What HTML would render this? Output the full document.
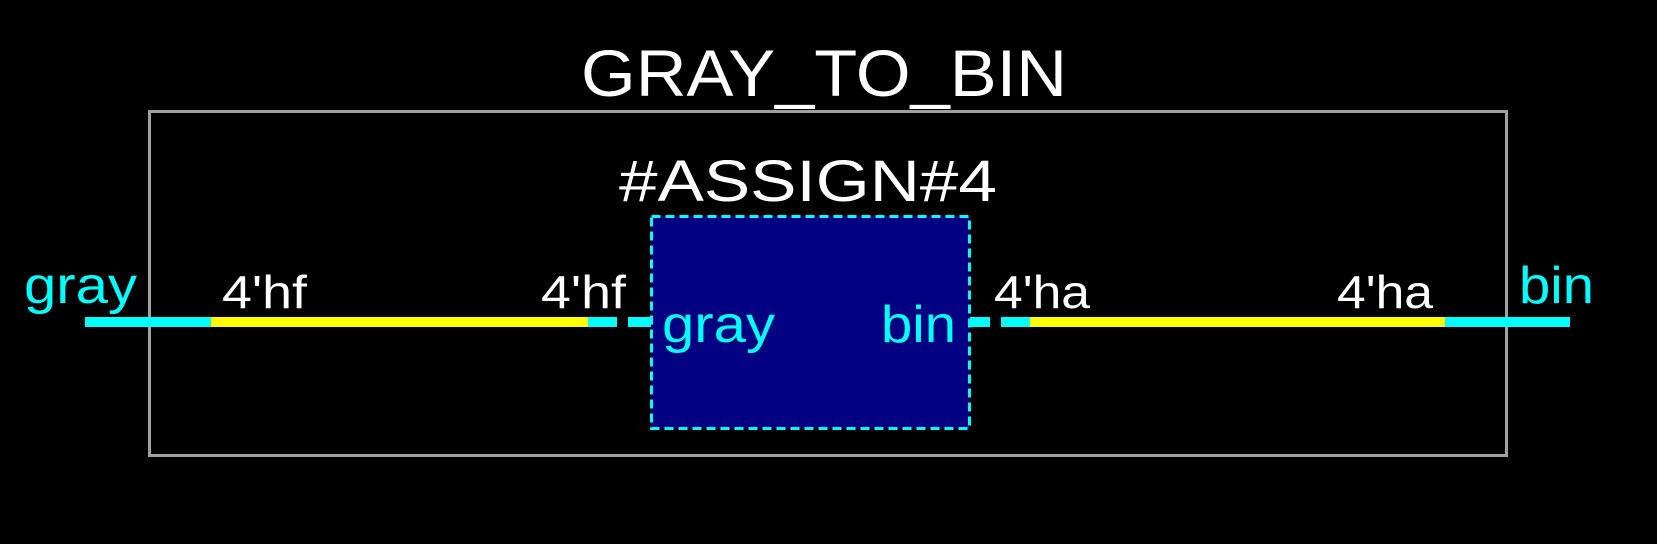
<!DOCTYPE html>
<html><head><style>html,body{margin:0;padding:0;background:#000;}svg{display:block}</style></head>
<body>
<svg width="1657" height="544" viewBox="0 0 1657 544" xmlns="http://www.w3.org/2000/svg" font-family="Liberation Sans, Arial, sans-serif">
<rect width="1657" height="544" fill="#000"/>
<text x="824" y="96" font-size="66" fill="#fff" text-anchor="middle" textLength="486" lengthAdjust="spacingAndGlyphs">GRAY_TO_BIN</text>
<rect x="149.5" y="111.5" width="1357" height="344" fill="none" stroke="#a0a0a0" stroke-width="3"/>
<text x="808" y="201" font-size="58" fill="#fff" text-anchor="middle" textLength="378" lengthAdjust="spacingAndGlyphs">#ASSIGN#4</text>
<rect x="651.5" y="216.5" width="318" height="212" fill="#000080" stroke="#00ffff" stroke-width="3" stroke-dasharray="9,5"/>
<g>
<rect x="85" y="317" width="126" height="10" fill="#00ffff"/>
<rect x="211" y="317" width="377" height="10" fill="#ffff00"/>
<rect x="588" y="317" width="29" height="10" fill="#00ffff"/>
<rect x="628" y="317" width="23" height="10" fill="#00ffff"/>
<rect x="970" y="317" width="20" height="10" fill="#00ffff"/>
<rect x="1001" y="317" width="29" height="10" fill="#00ffff"/>
<rect x="1030" y="317" width="415" height="10" fill="#ffff00"/>
<rect x="1445" y="317" width="125" height="10" fill="#00ffff"/>
</g>
<g font-size="52" fill="#00ffff">
<text x="24" y="303" textLength="113" lengthAdjust="spacingAndGlyphs">gray</text>
<text x="662" y="342" textLength="113" lengthAdjust="spacingAndGlyphs">gray</text>
<text x="881" y="342" textLength="75" lengthAdjust="spacingAndGlyphs">bin</text>
<text x="1519" y="303" textLength="75" lengthAdjust="spacingAndGlyphs">bin</text>
</g>
<g font-size="46" fill="#fff">
<text x="222" y="308" textLength="85" lengthAdjust="spacingAndGlyphs">4'hf</text>
<text x="541" y="308" textLength="85" lengthAdjust="spacingAndGlyphs">4'hf</text>
<text x="994" y="308" textLength="96" lengthAdjust="spacingAndGlyphs">4'ha</text>
<text x="1337" y="308" textLength="96" lengthAdjust="spacingAndGlyphs">4'ha</text>
</g>
</svg>
</body></html>
